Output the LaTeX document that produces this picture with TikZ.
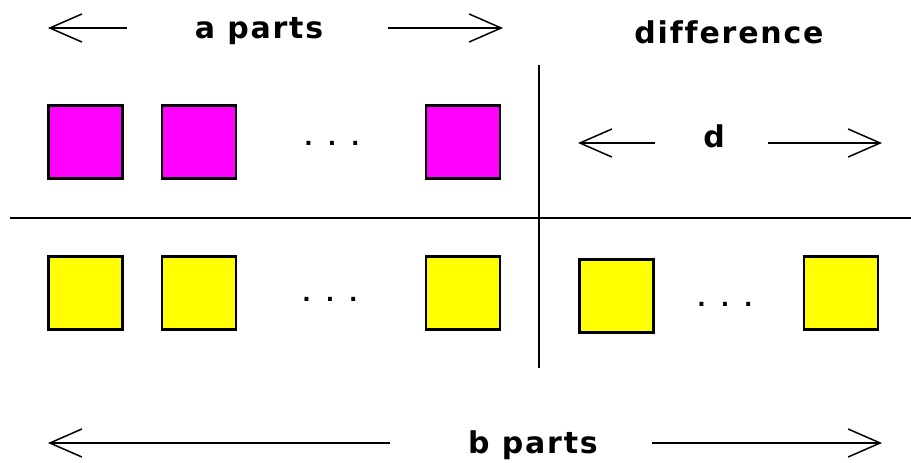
\documentclass[tikz,border=0pt]{standalone}
\usepackage{fontspec}
\newfontfamily\macfont{DejaVu Sans}[LetterSpace=6,Ligatures=NoCommon]
\usetikzlibrary{arrows.meta}
\definecolor{partmag}{RGB}{255,0,255}
\definecolor{partyel}{RGB}{255,255,0}

\begin{document}
\begin{tikzpicture}[
      x=1pt,y=-1pt,line width=2pt,
      >={Straight Barb[length=32pt,width=28pt,line width=1.5pt]},
      every node/.style={inner sep=0pt,outer sep=0pt},
      part/.style={draw,line width=2.6pt,minimum width=74pt,minimum height=73pt},
      apart/.style={part,fill=partmag},
      bpart/.style={part,fill=partyel},
      lbl/.style={anchor=base,font=\macfont\bfseries\fontsize{30}{34}\selectfont},
      more/.style={font=\macfont\bfseries\fontsize{22}{26}\selectfont},
      ]
      \useasboundingbox (0,0) rectangle (911,463);

      \node[apart] (a_1) at (85.5,142) {};
      \node[apart] (a_2) at (199,142)  {};
      \node[apart] (a_n) at (463,142)  {};
      \node[more]  (a_dots) at (332,143) {.\hspace{15pt}.\hspace{15pt}.};

      \node[bpart] (b_1) at (85.5,293) {};
      \node[bpart] (b_2) at (199,293)  {};
      \node[bpart] (b_n) at (463,293)  {};
      \node[bpart] (d_1) at (616.5,296) {};
      \node[bpart] (d_n) at (841,293)  {};
      \node[more]  (b_dots) at (330,299) {.\hspace{15pt}.\hspace{15pt}.};
      \node[more]  (d_dots) at (725,304) {.\hspace{15pt}.\hspace{15pt}.};

      \coordinate (h_0) at (10,218);  \coordinate (h_1) at (911,218);
      \coordinate (v_0) at (539,65);  \coordinate (v_1) at (539,368);
      \draw (h_0) -- (h_1);
      \draw (v_0) -- (v_1);

      \node[lbl] (aparts) at (259,38)  {a parts};
      \node[lbl] (diff)   at (729,43)  {difference};
      \node[lbl] (dlbl)   at (714,147) {d};
      \node[lbl] (bparts) at (533,453) {b parts};

      \coordinate (a_l0) at (127,28); \coordinate (a_l1) at (48,28);
      \coordinate (a_r0) at (388,28); \coordinate (a_r1) at (503,28);
      \coordinate (d_l0) at (655,143); \coordinate (d_l1) at (578,143);
      \coordinate (d_r0) at (768,143); \coordinate (d_r1) at (882,143);
      \coordinate (b_l0) at (390,443); \coordinate (b_l1) at (48,443);
      \coordinate (b_r0) at (652,443); \coordinate (b_r1) at (882,443);
      \draw[->] (a_l0) -- (a_l1);
      \draw[->] (a_r0) -- (a_r1);
      \draw[->] (d_l0) -- (d_l1);
      \draw[->] (d_r0) -- (d_r1);
      \draw[->] (b_l0) -- (b_l1);
      \draw[->] (b_r0) -- (b_r1);
    \end{tikzpicture}
\end{document}
